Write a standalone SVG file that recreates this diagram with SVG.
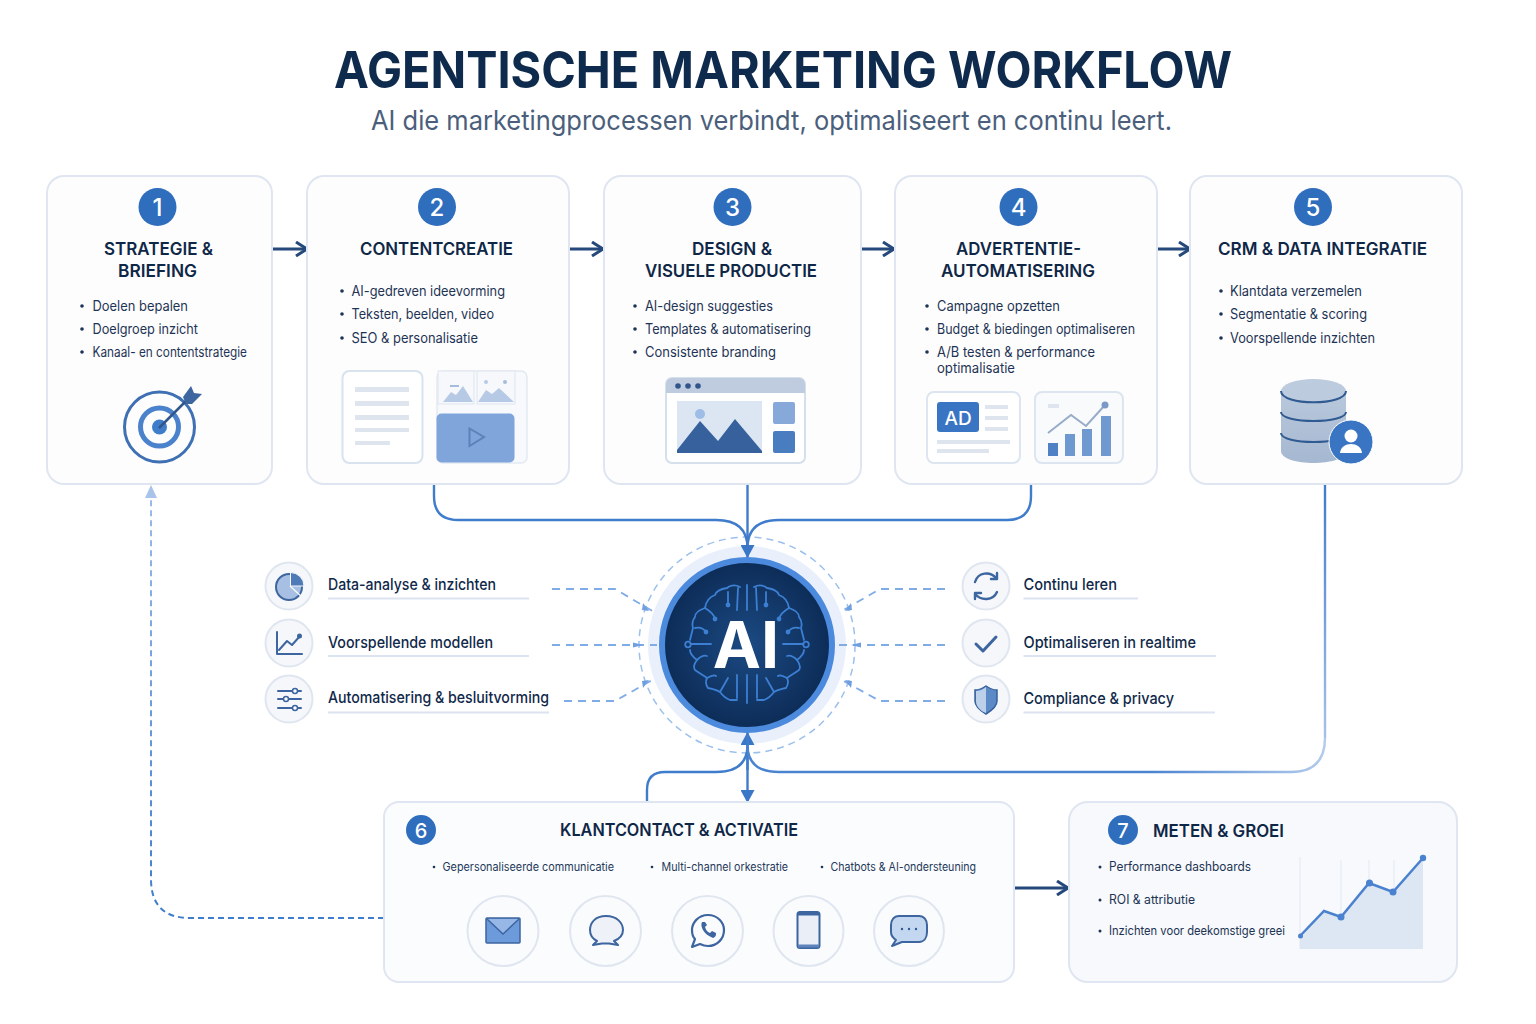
<svg xmlns="http://www.w3.org/2000/svg" width="1536" height="1024" viewBox="0 0 1536 1024">
<style>
text{font-family:Inter,"Liberation Sans",sans-serif;fill:#10294a}
.t{font-size:17.5px;font-weight:600;text-anchor:middle;fill:#0f2747}
.b{font-size:14px;fill:#1d3454}
.s{font-size:11.5px;fill:#24395a}
.d{fill:#1d3454}
.n{font-size:24px;font-weight:500;fill:#fff;text-anchor:middle}
.c{font-size:16px;font-weight:500;fill:#10294a}
.card{fill:#fdfdfe;stroke:#dfe6f1;stroke-width:2}
.badge{fill:#2f6dbd}
.ico{fill:#f5f7fb;stroke:#e0e6f0;stroke-width:2}
.ul{stroke:#dbe4f0;stroke-width:2;fill:none}
.line{fill:none;stroke:#3f7ccb;stroke-width:2.4}
.flow{fill:none;stroke:#25497a;stroke-width:3}
.dash{fill:none;stroke:#80ace6;stroke-width:1.8;stroke-dasharray:8 6}
.tick{fill:#6f9fe0}
.ig{fill:none;stroke:#3d659f;stroke-width:2;stroke-linecap:round;stroke-linejoin:round}
.br{fill:none;stroke:#3c7fd3;stroke-width:1.8;stroke-linecap:round;stroke-linejoin:round}
.bar{fill:#dfe5ee}
</style>
<defs>
<marker id="ah" markerUnits="userSpaceOnUse" markerWidth="14" markerHeight="16" refX="12" refY="8" orient="auto"><path d="M1 1L12 8L1 15" fill="none" stroke="#25497a" stroke-width="3"/></marker>
<marker id="ab" markerUnits="userSpaceOnUse" markerWidth="14" markerHeight="14" refX="12" refY="7" orient="auto"><path d="M0 0L13 7L0 14Z" fill="#3a77c6"/></marker>
<marker id="al" markerUnits="userSpaceOnUse" markerWidth="14" markerHeight="14" refX="12" refY="7" orient="auto"><path d="M0 1L13 7L0 13Z" fill="#a9c4ea"/></marker>
<radialGradient id="core" cx="50%" cy="50%" r="50%"><stop offset="0" stop-color="#1b4a83"/><stop offset="1" stop-color="#0d2c57"/></radialGradient>
<linearGradient id="db" x1="0" x2="0" y1="0" y2="1"><stop offset="0" stop-color="#b9c8dc"/><stop offset="1" stop-color="#a5b8d1"/></linearGradient>
<linearGradient id="fadeV" gradientUnits="userSpaceOnUse" x1="0" y1="484" x2="0" y2="772"><stop offset="0" stop-color="#3f7ccb"/><stop offset="1" stop-color="#b4cbec"/></linearGradient>
<linearGradient id="fadeH" gradientUnits="userSpaceOnUse" x1="1325" y1="0" x2="1150" y2="0"><stop offset="0" stop-color="#b4cbec"/><stop offset="1" stop-color="#4a84d0"/></linearGradient>
<linearGradient id="fadeD" gradientUnits="userSpaceOnUse" x1="0" y1="918" x2="0" y2="486"><stop offset="0" stop-color="#3f7ccb"/><stop offset="1" stop-color="#9dbdea"/></linearGradient>
</defs>
<rect width="1536" height="1024" fill="#fff"/>

<text x="334" y="88" font-size="51" font-weight="700" textLength="898" lengthAdjust="spacingAndGlyphs" style="fill:#0e2a4d">AGENTISCHE MARKETING WORKFLOW</text>
<text x="371" y="130" font-size="27" textLength="801" lengthAdjust="spacingAndGlyphs" style="fill:#4b5f7c">AI die marketingprocessen verbindt, optimaliseert en continu leert.</text>

<g id="node-ai">
<circle cx="747" cy="645" r="108" fill="none" stroke="#9cc0ec" stroke-width="1.500" stroke-dasharray="7 5"/>
<circle cx="747" cy="645" r="99" fill="#e9f0fb"/>
<circle cx="747" cy="645" r="85" fill="url(#core)" stroke="#4c8ade" stroke-width="6"/>
<g id="brain-left" class="br">
<path d="M740 587C734 584 729 586 727 588C720 589 716 592 715 595C709 597 706 602 705 608C699 610 695 613 695 617C692 621 692 625 693 628L690 640M690 650C690 654 693 657 697 660C694 664 693 667 695 670C699 673 703 675 707 678C705 682 706 685 708 688C713 689 717 690 720 692C723 696 727 699 730 700H737"/>
<path d="M738 588L737 610M747 585V610M747 675V703M690.500 644H711M737 675V698M728 678L720 692M728 592V605M705 608C710 611 714 614 715 619M695 628C700 627 704 629 706 632M697 660C701 656 704 655 707 656M707 678C711 676 714 674 716 676"/>
<circle cx="688" cy="644.500" r="2.800"/>
<circle cx="728" cy="605" r="1.500" fill="#3c7fd3"/><circle cx="715" cy="619" r="1.500" fill="#3c7fd3"/><circle cx="706" cy="632" r="1.500" fill="#3c7fd3"/>
</g>
<g id="brain-right" class="br" transform="matrix(-1 0 0 1 1494 0)">
<path d="M740 587C734 584 729 586 727 588C720 589 716 592 715 595C709 597 706 602 705 608C699 610 695 613 695 617C692 621 692 625 693 628L690 640M690 650C690 654 693 657 697 660C694 664 693 667 695 670C699 673 703 675 707 678C705 682 706 685 708 688C713 689 717 690 720 692C723 696 727 699 730 700H737"/>
<path d="M738 588L737 610M690.500 644H711M737 675V698M728 678L720 692M728 592V605M705 608C710 611 714 614 715 619M695 628C700 627 704 629 706 632M697 660C701 656 704 655 707 656M707 678C711 676 714 674 716 676"/>
<circle cx="688" cy="644.500" r="2.800"/>
<circle cx="728" cy="605" r="1.500" fill="#3c7fd3"/><circle cx="715" cy="619" r="1.500" fill="#3c7fd3"/><circle cx="706" cy="632" r="1.500" fill="#3c7fd3"/>
</g>
<text x="746" y="668" font-size="64.500" font-weight="700" text-anchor="middle" style="fill:#fff">AI</text>
</g>

<g id="connectors">
<path class="flow" marker-end="url(#ah)" d="M272 249H307"/>
<path class="flow" marker-end="url(#ah)" d="M569 249H603"/>
<path class="flow" marker-end="url(#ah)" d="M861 249H894"/>
<path class="flow" marker-end="url(#ah)" d="M1157 249H1190"/>
<path class="flow" marker-end="url(#ah)" d="M1014 888H1068"/>
<path class="line" d="M434 484V496Q434 520 458 520H716Q747.500 520 747.500 548"/>
<path class="line" d="M1031 484V496Q1031 520 1007 520H779Q747.500 520 747.500 548"/>
<path class="line" marker-end="url(#ab)" d="M747.500 484V557"/>
<path class="line" marker-end="url(#ab)" d="M747.500 770V733"/>
<path class="line" marker-end="url(#ab)" d="M747.500 735V802"/>
<path class="line" d="M647 802V790Q647 772 665 772H716Q747.500 772 747.500 745"/>
<path fill="none" stroke="url(#fadeV)" stroke-width="2.400" d="M1325 484V738"/>
<path fill="none" stroke="url(#fadeH)" stroke-width="2.400" d="M1325 738Q1325 772 1291 772H779Q747.500 772 747.500 745"/>
<path fill="none" stroke="url(#fadeD)" stroke-width="2" stroke-dasharray="6 4" marker-end="url(#al)" d="M384 918H190Q151 918 151 879V486"/>
<path class="dash" d="M552 589H615L654 612"/>
<path class="dash" d="M552 645H657"/>
<path class="dash" d="M564 701H615L654 679"/>
<path class="dash" d="M945 589H880L840 612"/>
<path class="dash" d="M945 645H837"/>
<path class="dash" d="M945 701H880L840 679"/>
<path class="tick" d="M633 642.500L643 645L633 647.500Z"/>
<path class="tick" d="M861 642.500L851 645L861 647.500Z"/>
<path class="tick" d="M643 603L649 611L642 610Z"/>
<path class="tick" d="M643 688L649 680L642 681Z"/>
<path class="tick" d="M851 603L845 611L852 610Z"/>
<path class="tick" d="M851 688L845 680L852 681Z"/>
</g>

<g id="node-1">
<rect class="card" x="47" y="176" width="225" height="308" rx="17"/>
<circle class="badge" cx="157.500" cy="207" r="19"/><text class="n" x="157.500" y="215.500">1</text>
<text class="t" x="158.500" y="255" textLength="109" lengthAdjust="spacingAndGlyphs">STRATEGIE &amp;</text><text class="t" x="157.500" y="277" textLength="79" lengthAdjust="spacingAndGlyphs">BRIEFING</text>
<circle class="d" cx="82" cy="306" r="1.800"/><text class="b" x="92.500" y="311" textLength="95.500" lengthAdjust="spacingAndGlyphs">Doelen bepalen</text>
<circle class="d" cx="82" cy="329" r="1.800"/><text class="b" x="92.500" y="334" textLength="105.500" lengthAdjust="spacingAndGlyphs">Doelgroep inzicht</text>
<circle class="d" cx="82" cy="352" r="1.800"/><text class="b" x="92.500" y="357" textLength="154.500" lengthAdjust="spacingAndGlyphs">Kanaal- en contentstrategie</text>
<circle cx="159.500" cy="427" r="35" fill="none" stroke="#3f70b4" stroke-width="3"/>
<circle cx="159.500" cy="427" r="19" fill="none" stroke="#4a82cb" stroke-width="5"/>
<circle cx="159.500" cy="427" r="7.500" fill="#3f7cc9"/>
<path d="M159 428L189 398" stroke="#31568b" stroke-width="2.500"/>
<path d="M183 397L191 386L194 393L202 394L192 404L186 404Z" fill="#3d659f"/>
</g>

<g id="node-2">
<rect class="card" x="307" y="176" width="262" height="308" rx="17"/>
<circle class="badge" cx="437" cy="207" r="19"/><text class="n" x="437" y="215.500">2</text>
<text class="t" x="436.500" y="255" textLength="153" lengthAdjust="spacingAndGlyphs">CONTENTCREATIE</text>
<circle class="d" cx="342" cy="291" r="1.800"/><text class="b" x="351.500" y="296" textLength="153.500" lengthAdjust="spacingAndGlyphs">AI-gedreven ideevorming</text>
<circle class="d" cx="342" cy="314" r="1.800"/><text class="b" x="351.500" y="319" textLength="142.500" lengthAdjust="spacingAndGlyphs">Teksten, beelden, video</text>
<circle class="d" cx="342" cy="338" r="1.800"/><text class="b" x="351.500" y="343" textLength="126.500" lengthAdjust="spacingAndGlyphs">SEO &amp; personalisatie</text>
<rect x="342.500" y="371" width="80" height="92" rx="7" fill="#fff" stroke="#d9e2ef" stroke-width="2"/>
<rect class="bar" x="355" y="387" width="54" height="5"/><rect class="bar" x="355" y="401" width="54" height="5"/><rect class="bar" x="355" y="415" width="54" height="5"/><rect class="bar" x="355" y="428" width="54" height="4"/><rect class="bar" x="355" y="441" width="35" height="4"/>
<rect x="437" y="371" width="90" height="92" rx="6" fill="#f7f9fc" stroke="#e3e9f2" stroke-width="1.500"/>
<rect x="438" y="371" width="36" height="33" fill="#f6f8fb" stroke="#dfe6f0"/>
<rect x="477" y="371" width="38" height="33" fill="#f6f8fb" stroke="#dfe6f0"/>
<path d="M443 402L451 392L456 395L463 386L473 402Z" fill="#b7cae5"/><path d="M478 402L486 390L492 394L499 388L514 402Z" fill="#b7cae5"/>
<rect x="450" y="385" width="9" height="2" fill="#a6bcdc"/><circle cx="486" cy="382" r="2" fill="#b7cae5"/><circle cx="505" cy="382" r="2" fill="#a6bcdc"/>
<rect x="436.500" y="413.500" width="78" height="49" rx="5" fill="#7fa5da"/>
<path d="M469.500 428.500L484 437L469.500 446Z" fill="none" stroke="#5b82b9" stroke-width="2"/>
</g>

<g id="node-3">
<rect class="card" x="604" y="176" width="257" height="308" rx="17"/>
<circle class="badge" cx="732.500" cy="207" r="19"/><text class="n" x="732.500" y="215.500">3</text>
<text class="t" x="732" y="255" textLength="80" lengthAdjust="spacingAndGlyphs">DESIGN &amp;</text><text class="t" x="731" y="277" textLength="172" lengthAdjust="spacingAndGlyphs">VISUELE PRODUCTIE</text>
<circle class="d" cx="635" cy="306" r="1.800"/><text class="b" x="645" y="311" textLength="128" lengthAdjust="spacingAndGlyphs">AI-design suggesties</text>
<circle class="d" cx="635" cy="329" r="1.800"/><text class="b" x="645" y="334" textLength="166" lengthAdjust="spacingAndGlyphs">Templates &amp; automatisering</text>
<circle class="d" cx="635" cy="352" r="1.800"/><text class="b" x="645" y="357" textLength="131" lengthAdjust="spacingAndGlyphs">Consistente branding</text>
<rect x="666" y="378" width="139" height="85" rx="6" fill="#fff" stroke="#d6dfec" stroke-width="2"/>
<path d="M666 393V384a6 6 0 0 1 6-6h127a6 6 0 0 1 6 6v9Z" fill="#bfcce0"/>
<circle cx="678" cy="386" r="2.800" fill="#31568b"/><circle cx="688" cy="386" r="2.800" fill="#31568b"/><circle cx="698" cy="386" r="2.800" fill="#31568b"/>
<rect x="677" y="401" width="85" height="52" fill="#dce5f2"/>
<circle cx="700" cy="414" r="5" fill="#9dbde6"/>
<path d="M677 450L700 421L718 441L735 419L762 451V453H677Z" fill="#36619c"/>
<rect x="773" y="402" width="22" height="22" rx="2" fill="#86a9da"/>
<rect x="773" y="431" width="22" height="22" rx="2" fill="#4a7cc0"/>
</g>

<g id="node-4">
<rect class="card" x="895" y="176" width="262" height="308" rx="17"/>
<circle class="badge" cx="1018.500" cy="207" r="19"/><text class="n" x="1018.500" y="215.500">4</text>
<text class="t" x="1018.500" y="255" textLength="125" lengthAdjust="spacingAndGlyphs">ADVERTENTIE-</text><text class="t" x="1018" y="277" textLength="154" lengthAdjust="spacingAndGlyphs">AUTOMATISERING</text>
<circle class="d" cx="927" cy="306" r="1.800"/><text class="b" x="937" y="311" textLength="123" lengthAdjust="spacingAndGlyphs">Campagne opzetten</text>
<circle class="d" cx="927" cy="329" r="1.800"/><text class="b" x="937" y="334" textLength="198" lengthAdjust="spacingAndGlyphs">Budget &amp; biedingen optimaliseren</text>
<circle class="d" cx="927" cy="352" r="1.800"/><text class="b" x="937" y="357" textLength="158" lengthAdjust="spacingAndGlyphs">A/B testen &amp; performance</text>
<text class="b" x="937" y="373" textLength="78" lengthAdjust="spacingAndGlyphs">optimalisatie</text>
<rect x="927" y="392" width="93" height="71" rx="7" fill="#fff" stroke="#dde5f0" stroke-width="2"/>
<rect x="937" y="402" width="42" height="30" rx="3" fill="#3a75c4"/>
<text x="958" y="425" font-size="19" font-weight="500" text-anchor="middle" style="fill:#fff">AD</text>
<rect class="bar" x="985" y="405" width="23" height="4"/><rect class="bar" x="985" y="416" width="23" height="4"/><rect class="bar" x="985" y="427" width="23" height="4"/>
<rect class="bar" x="937" y="440" width="73" height="4"/><rect class="bar" x="937" y="449" width="52" height="4"/>
<rect x="1035" y="392" width="88" height="71" rx="7" fill="#f8fafc" stroke="#dde5f0" stroke-width="2"/>
<rect x="1048" y="443" width="10" height="13" fill="#4f81c4"/><rect x="1065" y="434" width="10" height="22" fill="#6d98d0"/><rect x="1082" y="429" width="10" height="27" fill="#7099d0"/><rect x="1101" y="416" width="10" height="40" fill="#7099d0"/>
<rect class="bar" x="1048" y="404" width="11" height="4"/>
<path d="M1048 433L1071 415L1086 426L1105 405" fill="none" stroke="#98abc8" stroke-width="2"/>
<circle cx="1105" cy="405" r="3.500" fill="#7b99c6"/>
</g>

<g id="node-5">
<rect class="card" x="1190" y="176" width="272" height="308" rx="17"/>
<circle class="badge" cx="1313" cy="207" r="19"/><text class="n" x="1313" y="215.500">5</text>
<text class="t" x="1322.500" y="255" textLength="209" lengthAdjust="spacingAndGlyphs">CRM &amp; DATA INTEGRATIE</text>
<circle class="d" cx="1221" cy="291" r="1.800"/><text class="b" x="1230" y="296" textLength="132" lengthAdjust="spacingAndGlyphs">Klantdata verzemelen</text>
<circle class="d" cx="1221" cy="314" r="1.800"/><text class="b" x="1230" y="319" textLength="137" lengthAdjust="spacingAndGlyphs">Segmentatie &amp; scoring</text>
<circle class="d" cx="1221" cy="338" r="1.800"/><text class="b" x="1230" y="343" textLength="145" lengthAdjust="spacingAndGlyphs">Voorspellende inzichten</text>
<path d="M1281 391V451C1281 467 1346 467 1346 451V391Z" fill="url(#db)"/>
<ellipse cx="1313.500" cy="391" rx="32.500" ry="12" fill="#bdcbde"/>
<path d="M1281 391C1281 406 1346 406 1346 391M1281 412C1281 424 1346 424 1346 412M1281 433C1281 445 1346 445 1346 433" fill="none" stroke="#2f5a92" stroke-width="2"/>
<circle cx="1351" cy="442" r="22" fill="#3a75c4" stroke="#fff" stroke-width="1"/>
<circle cx="1351" cy="436" r="6.500" fill="#fff"/><path d="M1340 453C1341 441 1361 441 1362 453Z" fill="#fff"/>
</g>

<g id="capability-left">
<circle class="ico" cx="289" cy="586" r="23.500"/>
<circle cx="289" cy="587" r="13" fill="#a6bfe2" stroke="#3d659f" stroke-width="2"/><path d="M290 586L302 597" stroke="#f5f7fb" stroke-width="1.500"/><path d="M290.500 586V572.500A13.500 13.500 0 0 1 304 586Z" fill="#4f7ab8" stroke="#f5f7fb"/>
<text class="c" x="328" y="590" textLength="168" lengthAdjust="spacingAndGlyphs">Data-analyse &amp; inzichten</text><path class="ul" d="M328 598.500H529"/>
<circle class="ico" cx="289" cy="643" r="23.500"/>
<path class="ig" d="M277 632V654H302M279 650L287 641L292 645L300 636"/><circle cx="299.500" cy="636" r="2.500" fill="#3d659f"/>
<text class="c" x="328" y="648" textLength="165" lengthAdjust="spacingAndGlyphs">Voorspellende modellen</text><path class="ul" d="M328 656H529"/>
<circle class="ico" cx="289" cy="699" r="23.500"/>
<path class="ig" d="M278 691H301M278 699H301M278 708H301"/><circle cx="295" cy="691" r="2.500" fill="#fff" stroke="#3d659f" stroke-width="1.500"/><circle cx="286" cy="699" r="2.500" fill="#fff" stroke="#3d659f" stroke-width="1.500"/><circle cx="295" cy="708" r="2.500" fill="#fff" stroke="#3d659f" stroke-width="1.500"/>
<text class="c" x="328" y="703" textLength="221" lengthAdjust="spacingAndGlyphs">Automatisering &amp; besluitvorming</text><path class="ul" d="M328 712.500H549"/>
</g>

<g id="capability-right">
<circle class="ico" cx="986" cy="586" r="23.500"/>
<path class="ig" d="M975 582C978 572 990 571 996 578M997 592C993 601 981 601 975 594M997 573V579H991M975 599V593H981" style="stroke-width:2.400"/>
<text class="c" x="1023.500" y="590" textLength="93.500" lengthAdjust="spacingAndGlyphs">Continu leren</text><path class="ul" d="M1023.500 598.500H1138"/>
<circle class="ico" cx="986" cy="643" r="23.500"/>
<path d="M976 644L983 651L996 637" fill="none" stroke="#3d659f" stroke-width="3" stroke-linecap="round" stroke-linejoin="round"/>
<text class="c" x="1023.500" y="648" textLength="172.500" lengthAdjust="spacingAndGlyphs">Optimaliseren in realtime</text><path class="ul" d="M1023.500 656H1216"/>
<circle class="ico" cx="986" cy="699" r="23.500"/>
<path d="M986 686C980 690 978 690 975 690V701C975 707 981 711 986 714C991 711 997 707 997 701V690C994 690 992 690 986 686Z" fill="#5b8ac6" stroke="#36619c" stroke-width="1.500"/><path d="M986 687V713C981 711 976 707 976 701V691C979 691 982 690 986 687Z" fill="#bcd0ea"/>
<text class="c" x="1023.500" y="704" textLength="150.500" lengthAdjust="spacingAndGlyphs">Compliance &amp; privacy</text><path class="ul" d="M1023.500 712.500H1215"/>
</g>

<g id="node-6">
<rect x="384" y="802" width="630" height="180" rx="15" fill="#fbfcfe" stroke="#dfe6f1" stroke-width="2"/>
<circle class="badge" cx="421" cy="830" r="15"/><text class="n" x="421" y="837.500" style="font-size:20px">6</text>
<text class="t" x="679" y="836" textLength="238" lengthAdjust="spacingAndGlyphs">KLANTCONTACT &amp; ACTIVATIE</text>
<circle class="d" cx="434" cy="867" r="1.300"/><text class="s" x="442.500" y="871" textLength="171.500" lengthAdjust="spacingAndGlyphs">Gepersonaliseerde communicatie</text>
<circle class="d" cx="652" cy="867" r="1.300"/><text class="s" x="661.500" y="871" textLength="126.500" lengthAdjust="spacingAndGlyphs">Multi-channel orkestratie</text>
<circle class="d" cx="822" cy="867" r="1.300"/><text class="s" x="830.500" y="871" textLength="145.500" lengthAdjust="spacingAndGlyphs">Chatbots &amp; AI-ondersteuning</text>
<ellipse class="ico" cx="503" cy="931" rx="35.500" ry="35" style="fill:#fafbfd"/>
<ellipse class="ico" cx="605.500" cy="931" rx="35.500" ry="35" style="fill:#fafbfd"/>
<ellipse class="ico" cx="707.500" cy="931" rx="35.500" ry="35" style="fill:#fafbfd"/>
<ellipse class="ico" cx="808.500" cy="931" rx="35" ry="35" style="fill:#fafbfd"/>
<ellipse class="ico" cx="909" cy="931" rx="35" ry="35" style="fill:#fafbfd"/>
<rect x="486" y="918" width="34" height="25" rx="1" fill="#6c9ada" stroke="#3d659f" stroke-width="1.500"/><path d="M487 919L503 934L519 919" fill="#97b8e6" stroke="#3d659f" stroke-width="1.500"/>
<path class="ig" d="M606 916C595 916 590 923 590 930C590 936 593 939 597 941L593 945L602 943.500H609L618 945L614 941C619 939 623 936 623 930C623 923 617 916 606 916Z" style="fill:#eef2f8"/>
<path class="ig" d="M708 915C698 915 692 923 692 930C692 934 693 937 695 939L692 947L700 944C702 945 705 946 708 946C717 946 724 939 724 930C724 922 717 915 708 915Z" style="stroke-width:2.200"/>
<path d="M702 922C700 926 703 934 713 938C716 937 716 935 716 933L712 931L710 933C707 932 706 930 705 927L707 925L705 922Z" fill="#3d659f"/>
<rect x="797.500" y="912" width="22" height="36" rx="2.500" fill="#e9eef7" stroke="#3d659f" stroke-width="2"/><path d="M798 912h21v3.500h-21Z" fill="#3d659f"/><path d="M798 944.500h21v3h-21Z" fill="#5f84bb"/>
<path class="ig" d="M899 916H919C924 916 927 920 927 925V932C927 938 924 942 919 942H902L892 946L896 940C893 938 891 935 891 932V925C891 920 894 916 899 916Z" style="fill:#c4d7f0"/>
<circle cx="902" cy="929" r="1.200" fill="#2f5a92"/><circle cx="909" cy="929" r="1.200" fill="#2f5a92"/><circle cx="916" cy="929" r="1.200" fill="#2f5a92"/>
</g>

<g id="node-7">
<rect x="1069" y="802" width="388" height="180" rx="19" fill="#f7f9fc" stroke="#dfe6f1" stroke-width="2"/>
<circle class="badge" cx="1123" cy="830" r="15"/><text class="n" x="1123" y="837.500" style="font-size:20px">7</text>
<text x="1153" y="836.500" textLength="131" lengthAdjust="spacingAndGlyphs" style="font-size:17.500px;font-weight:600;fill:#0f2747">METEN &amp; GROEI</text>
<circle class="d" cx="1100" cy="867" r="1.500"/><text class="b" x="1109" y="871" textLength="142" lengthAdjust="spacingAndGlyphs" style="font-size:12.500px">Performance dashboards</text>
<circle class="d" cx="1100" cy="900" r="1.500"/><text class="b" x="1109" y="904" textLength="86" lengthAdjust="spacingAndGlyphs" style="font-size:12.500px">ROI &amp; attributie</text>
<circle class="d" cx="1100" cy="931" r="1.500"/><text class="b" x="1109" y="935" textLength="176" lengthAdjust="spacingAndGlyphs" style="font-size:12.500px">Inzichten voor deekomstige greei</text>
<path d="M1300 857V949M1341 860V949M1369 860V949M1394 860V949" stroke="#e3e9f3" stroke-width="1" fill="none"/>
<path d="M1300 936L1324 911L1341 917L1369 883L1393 892L1423 858V949H1300Z" fill="#dde6f3"/>
<path d="M1300 936L1324 911L1341 917L1369 883L1393 892L1423 858" fill="none" stroke="#4a82cf" stroke-width="2.500"/>
<circle cx="1300.500" cy="936" r="2.500" fill="#4a82cf"/><circle cx="1341" cy="917" r="3.500" fill="#4a82cf"/><circle cx="1369.500" cy="883" r="3.500" fill="#4a82cf"/><circle cx="1393" cy="892" r="3.500" fill="#4a82cf"/><circle cx="1423" cy="858" r="3.200" fill="#4a82cf"/>
</g>
</svg>
